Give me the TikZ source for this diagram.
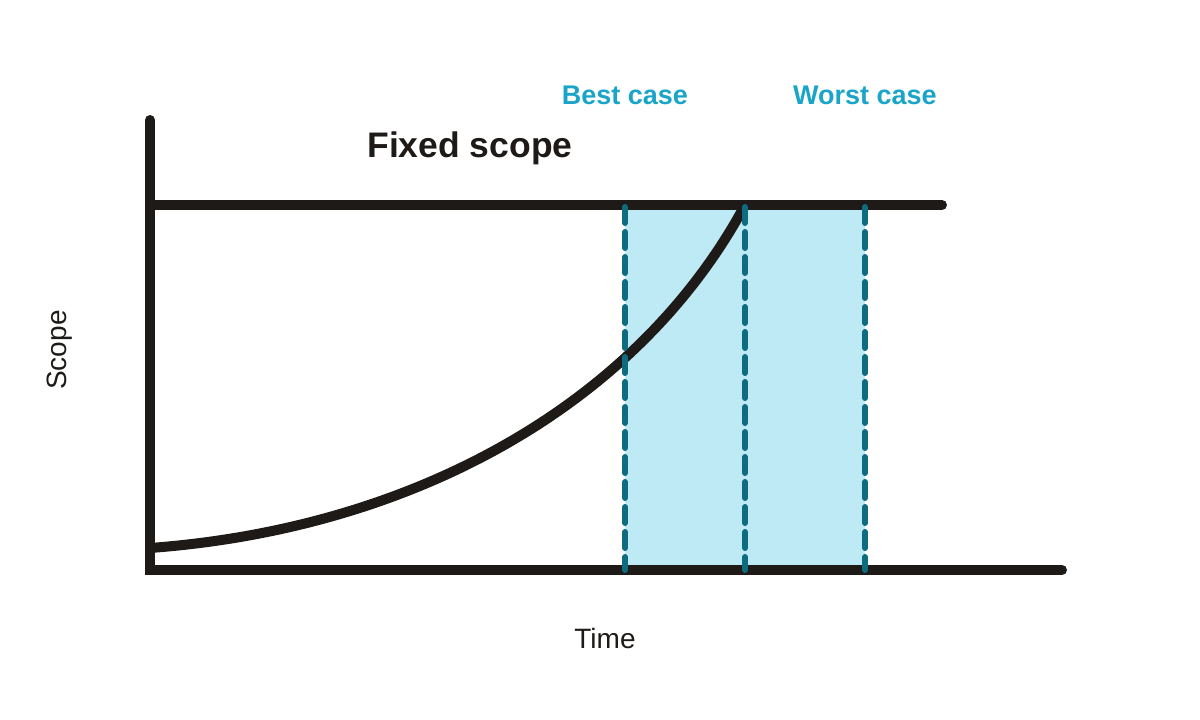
\documentclass[tikz,border=0pt]{standalone}
\usepackage{fontspec}
\setmainfont{Liberation Sans}
\definecolor{ink}{HTML}{1E1A18}
\definecolor{bandc}{HTML}{BDEAF5}
\definecolor{dashc}{HTML}{0E6B80}
\definecolor{lab}{HTML}{1AA5C8}
\begin{document}
\begin{tikzpicture}[x=1pt,y=-1pt,
  axis/.style={ink,line width=10pt,line cap=round},
  dl/.style={dashc,line width=6pt,dash pattern=on 16pt off 9pt,line cap=round},
  case/.style={lab,font=\fontsize{27}{30}\selectfont\bfseries}]
\useasboundingbox (0,0) rectangle (1200,720);
\fill[bandc] (625,205) rectangle (865,570);
\draw[axis] (150,120) -- (150,570) -- (1062,570);
\draw[axis] (150,205) -- (942,205);
\draw[ink,line width=10pt] (150,548) .. controls (420,528) and (640,400) .. (745,205);
\foreach \x in {625,745,865} \draw[dl] (\x,207) -- (\x,570);
\node[font=\fontsize{35.5}{40}\selectfont\bfseries,text=ink] (fs) at (470,148) {Fixed scope};
\node[case] (bc) at (625,95) {Best case};
\node[case] (wc) at (865,95) {Worst case};
\node[font=\fontsize{28}{32}\selectfont,text=ink,rotate=90] (sc) at (60,350) {Scope};
\node[font=\fontsize{28}{32}\selectfont,text=ink] (tm) at (605,638) {Time};
\end{tikzpicture}
\end{document}
